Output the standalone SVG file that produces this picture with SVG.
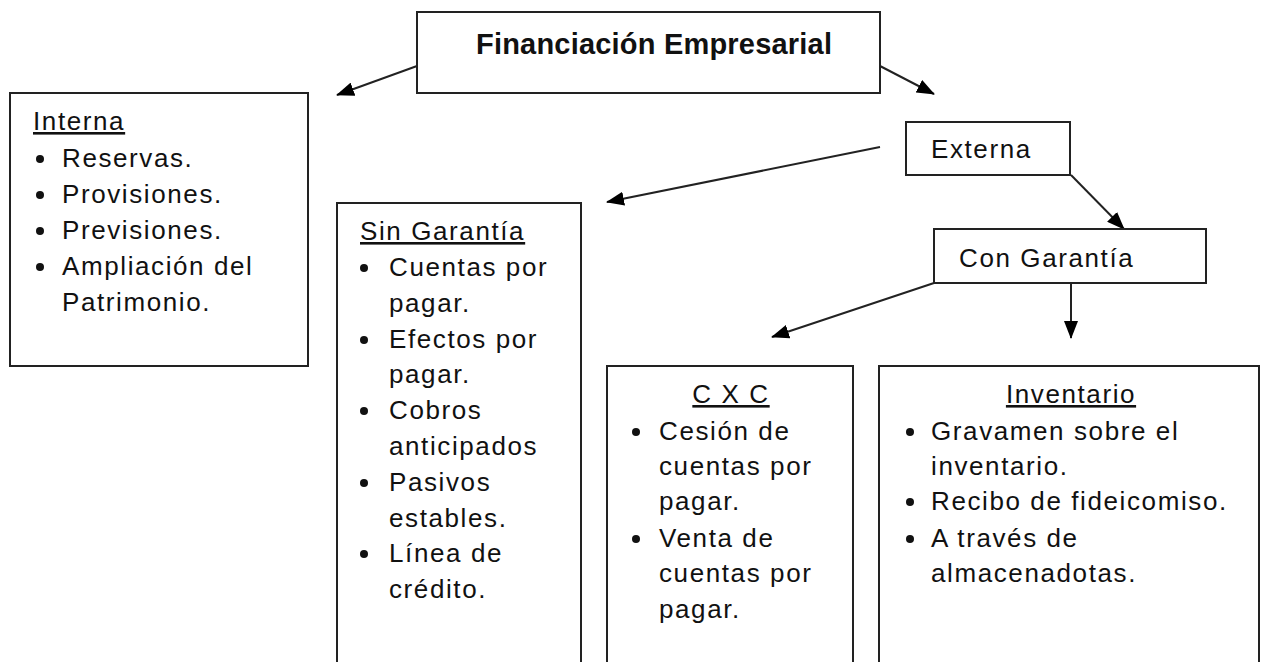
<svg xmlns="http://www.w3.org/2000/svg" width="1261" height="662" viewBox="0 0 1261 662">
<defs>
<marker id="ah" viewBox="0 0 18 14" refX="17" refY="7" markerWidth="18" markerHeight="14" markerUnits="userSpaceOnUse" orient="auto">
<path d="M0,0 L18,7 L0,14 z" fill="#000"/>
</marker>
</defs>
<style>
.box{fill:#fff;stroke:#222;stroke-width:2}
.t{font-family:"Liberation Sans",Arial,sans-serif;font-size:26px;letter-spacing:1.6px;fill:#111}
.h{text-decoration:underline}
.b{font-family:"Liberation Sans",Arial,sans-serif;font-size:29px;font-weight:bold;letter-spacing:0.2px;fill:#111}
.c{stroke:#222;stroke-width:2;fill:none;marker-end:url(#ah)}
.dot{fill:#111}
</style>
<rect width="1261" height="662" fill="#fff"/>

<g id="connectors">
<line class="c" x1="417" y1="66" x2="337" y2="95"/>
<line class="c" x1="880" y1="66" x2="934" y2="94"/>
<line class="c" x1="880" y1="147" x2="607" y2="202"/>
<line class="c" x1="1071" y1="175" x2="1124" y2="229"/>
<line class="c" x1="934" y1="283" x2="772" y2="337"/>
<line class="c" x1="1071" y1="284" x2="1071" y2="338"/>
</g>

<g id="financiacion">
<rect class="box" x="417" y="12" width="463" height="81"/>
<text class="b" x="476" y="54">Financiación Empresarial</text>
</g>

<g id="interna">
<rect class="box" x="10" y="93" width="298" height="273"/>
<text class="t h" x="33" y="130">Interna</text>
<circle class="dot" cx="40" cy="159" r="4"/>
<text class="t" x="62" y="167">Reservas.</text>
<circle class="dot" cx="40" cy="195" r="4"/>
<text class="t" x="62" y="203">Provisiones.</text>
<circle class="dot" cx="40" cy="231" r="4"/>
<text class="t" x="62" y="239">Previsiones.</text>
<circle class="dot" cx="40" cy="267" r="4"/>
<text class="t" x="62" y="275">Ampliación del</text>
<text class="t" x="62" y="311">Patrimonio.</text>
</g>

<g id="externa">
<rect class="box" x="906" y="122" width="164" height="53"/>
<text class="t" x="931" y="158">Externa</text>
</g>

<g id="con-garantia">
<rect class="box" x="934" y="229" width="272" height="54"/>
<text class="t" x="959" y="267">Con Garantía</text>
</g>

<g id="sin-garantia">
<path class="box" d="M337,670 V203 H581 V670"/>
<text class="t h" x="360" y="240">Sin Garantía</text>
<circle class="dot" cx="364" cy="268" r="4"/>
<text class="t" x="389" y="276">Cuentas por</text>
<text class="t" x="389" y="312">pagar.</text>
<circle class="dot" cx="364" cy="340" r="4"/>
<text class="t" x="389" y="348">Efectos por</text>
<text class="t" x="389" y="383">pagar.</text>
<circle class="dot" cx="364" cy="411" r="4"/>
<text class="t" x="389" y="419">Cobros</text>
<text class="t" x="389" y="455">anticipados</text>
<circle class="dot" cx="364" cy="483" r="4"/>
<text class="t" x="389" y="491">Pasivos</text>
<text class="t" x="389" y="527">estables.</text>
<circle class="dot" cx="364" cy="554" r="4"/>
<text class="t" x="389" y="562">Línea de</text>
<text class="t" x="389" y="598">crédito.</text>
</g>

<g id="cxc">
<path class="box" d="M607,670 V366 H853 V670"/>
<text class="t h" x="731" y="403" text-anchor="middle">C X C</text>
<circle class="dot" cx="636" cy="432" r="4"/>
<text class="t" x="659" y="440">Cesión de</text>
<text class="t" x="659" y="475">cuentas por</text>
<text class="t" x="659" y="510">pagar.</text>
<circle class="dot" cx="636" cy="539" r="4"/>
<text class="t" x="659" y="547">Venta de</text>
<text class="t" x="659" y="582">cuentas por</text>
<text class="t" x="659" y="618">pagar.</text>
</g>

<g id="inventario">
<path class="box" d="M879,670 V366 H1259 V670"/>
<text class="t h" x="1071" y="403" text-anchor="middle">Inventario</text>
<circle class="dot" cx="910" cy="432" r="4"/>
<text class="t" x="931" y="440">Gravamen sobre el</text>
<text class="t" x="931" y="475">inventario.</text>
<circle class="dot" cx="910" cy="502" r="4"/>
<text class="t" x="931" y="510">Recibo de fideicomiso.</text>
<circle class="dot" cx="910" cy="539" r="4"/>
<text class="t" x="931" y="547">A través de</text>
<text class="t" x="931" y="582">almacenadotas.</text>
</g>
</svg>
